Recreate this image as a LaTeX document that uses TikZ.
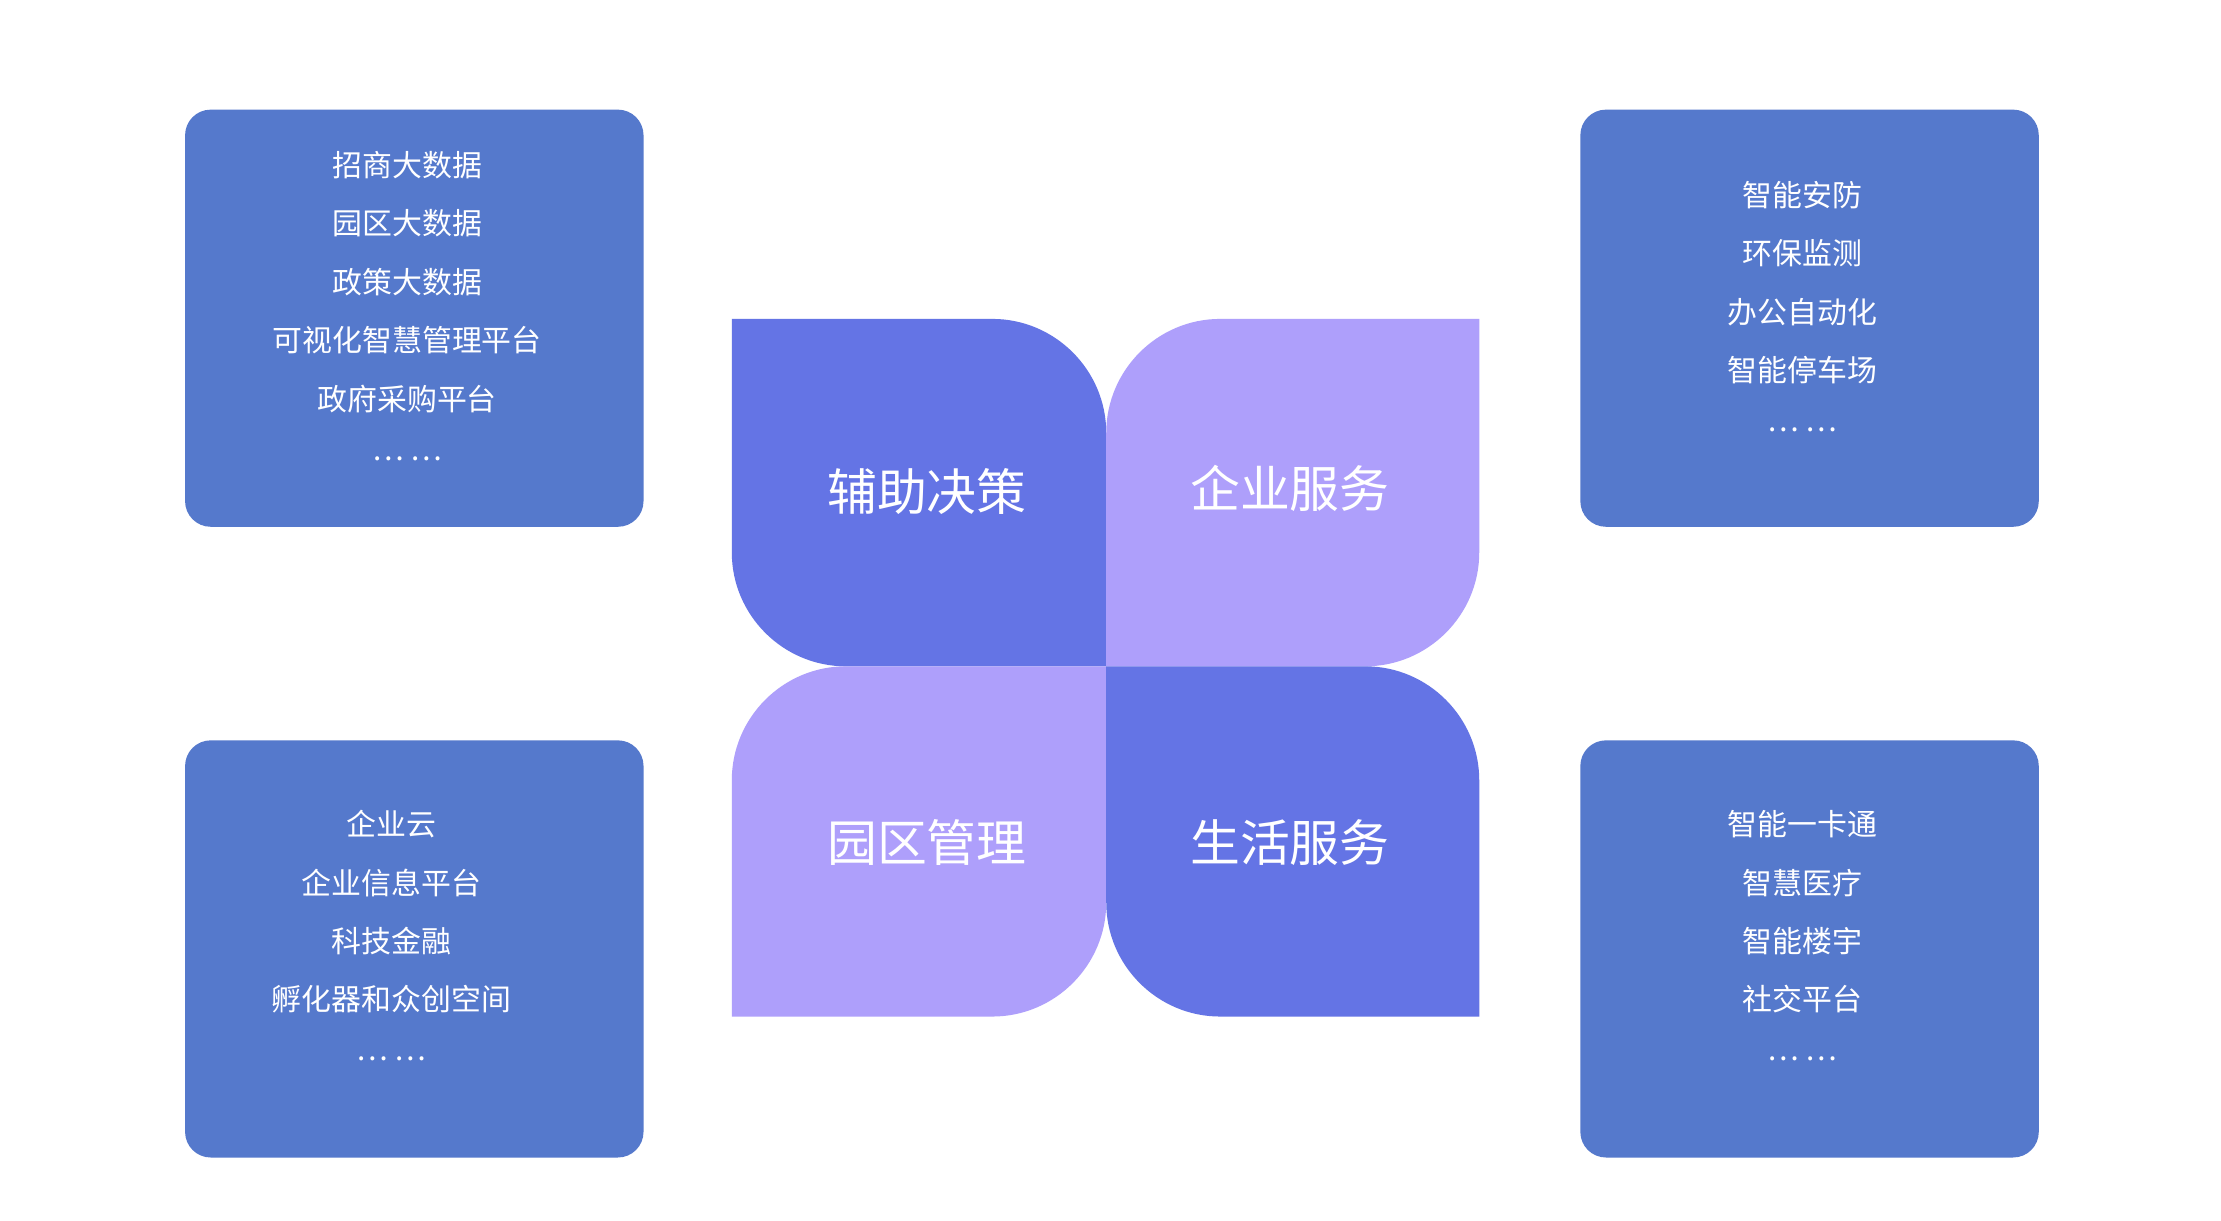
\documentclass[tikz,border=0pt]{standalone}
\usepackage{fontspec}
\setmainfont{Noto Sans CJK SC}
\begin{document}
\begin{tikzpicture}[x=1pt,y=-1pt,
  box/.style={fill=boxc,rounded corners=18pt},
  item/.style={text=white,font=\fontsize{21}{25}\selectfont,anchor=center},
  big/.style={text=white,font=\fontsize{35}{40}\selectfont,anchor=center}]
\definecolor{boxc}{HTML}{5579CC}
\definecolor{darkp}{HTML}{6474E5}
\definecolor{lightp}{HTML}{AE9FFB}
\useasboundingbox[fill=white] (0,0) rectangle (1560,857);
\fill[box] (130,77) rectangle (452,370);
\fill[box] (1110,77) rectangle (1432,370);
\fill[box] (130,520) rectangle (452,813);
\fill[box] (1110,520) rectangle (1432,813);
% petals
\fill[darkp] (514,224) -- (697,224) .. controls (741,224) and (777,260) .. (777,304) -- (777,468) -- (594,468) .. controls (550,468) and (514,432) .. (514,388) -- cycle;
\fill[lightp] (1039,224) -- (1039,388) .. controls (1039,432) and (1003,468) .. (959,468) -- (777,468) -- (777,304) .. controls (777,260) and (813,224) .. (857,224) -- cycle;
\fill[lightp] (514,548) .. controls (514,504) and (550,468) .. (594,468) -- (777,468) -- (777,634) .. controls (777,678) and (741,714) .. (697,714) -- (514,714) -- cycle;
\fill[darkp] (777,468) -- (959,468) .. controls (1003,468) and (1039,504) .. (1039,548) -- (1039,714) -- (857,714) .. controls (813,714) and (777,678) .. (777,634) -- cycle;
\node[big] (c1) at (651,345) {辅助决策};
\node[big] (c2) at (906,343) {企业服务};
\node[big] (c3) at (651,592) {园区管理};
\node[big] (c4) at (906,592) {生活服务};
% TL
\node[item] (a1) at (286,116) {招商大数据};
\node[item] (a2) at (286,157) {园区大数据};
\node[item] (a3) at (286,198) {政策大数据};
\node[item] (a4) at (286,239) {可视化智慧管理平台};
\node[item] (a5) at (286,280) {政府采购平台};
\node[item] (a6) at (286,322) {… …};
% TR
\node[item] (b1) at (1266,137) {智能安防};
\node[item] (b2) at (1266,178) {环保监测};
\node[item] (b3) at (1266,219) {办公自动化};
\node[item] (b4) at (1266,260) {智能停车场};
\node[item] (b5) at (1266,302) {… …};
% BL
\node[item] (d1) at (275,579) {企业云};
\node[item] (d2) at (275,620) {企业信息平台};
\node[item] (d3) at (275,661) {科技金融};
\node[item] (d4) at (275,702) {孵化器和众创空间};
\node[item] (d5) at (275,744) {… …};
% BR
\node[item] (e1) at (1266,579) {智能一卡通};
\node[item] (e2) at (1266,620) {智慧医疗};
\node[item] (e3) at (1266,661) {智能楼宇};
\node[item] (e4) at (1266,702) {社交平台};
\node[item] (e5) at (1266,744) {… …};
\end{tikzpicture}
\end{document}
